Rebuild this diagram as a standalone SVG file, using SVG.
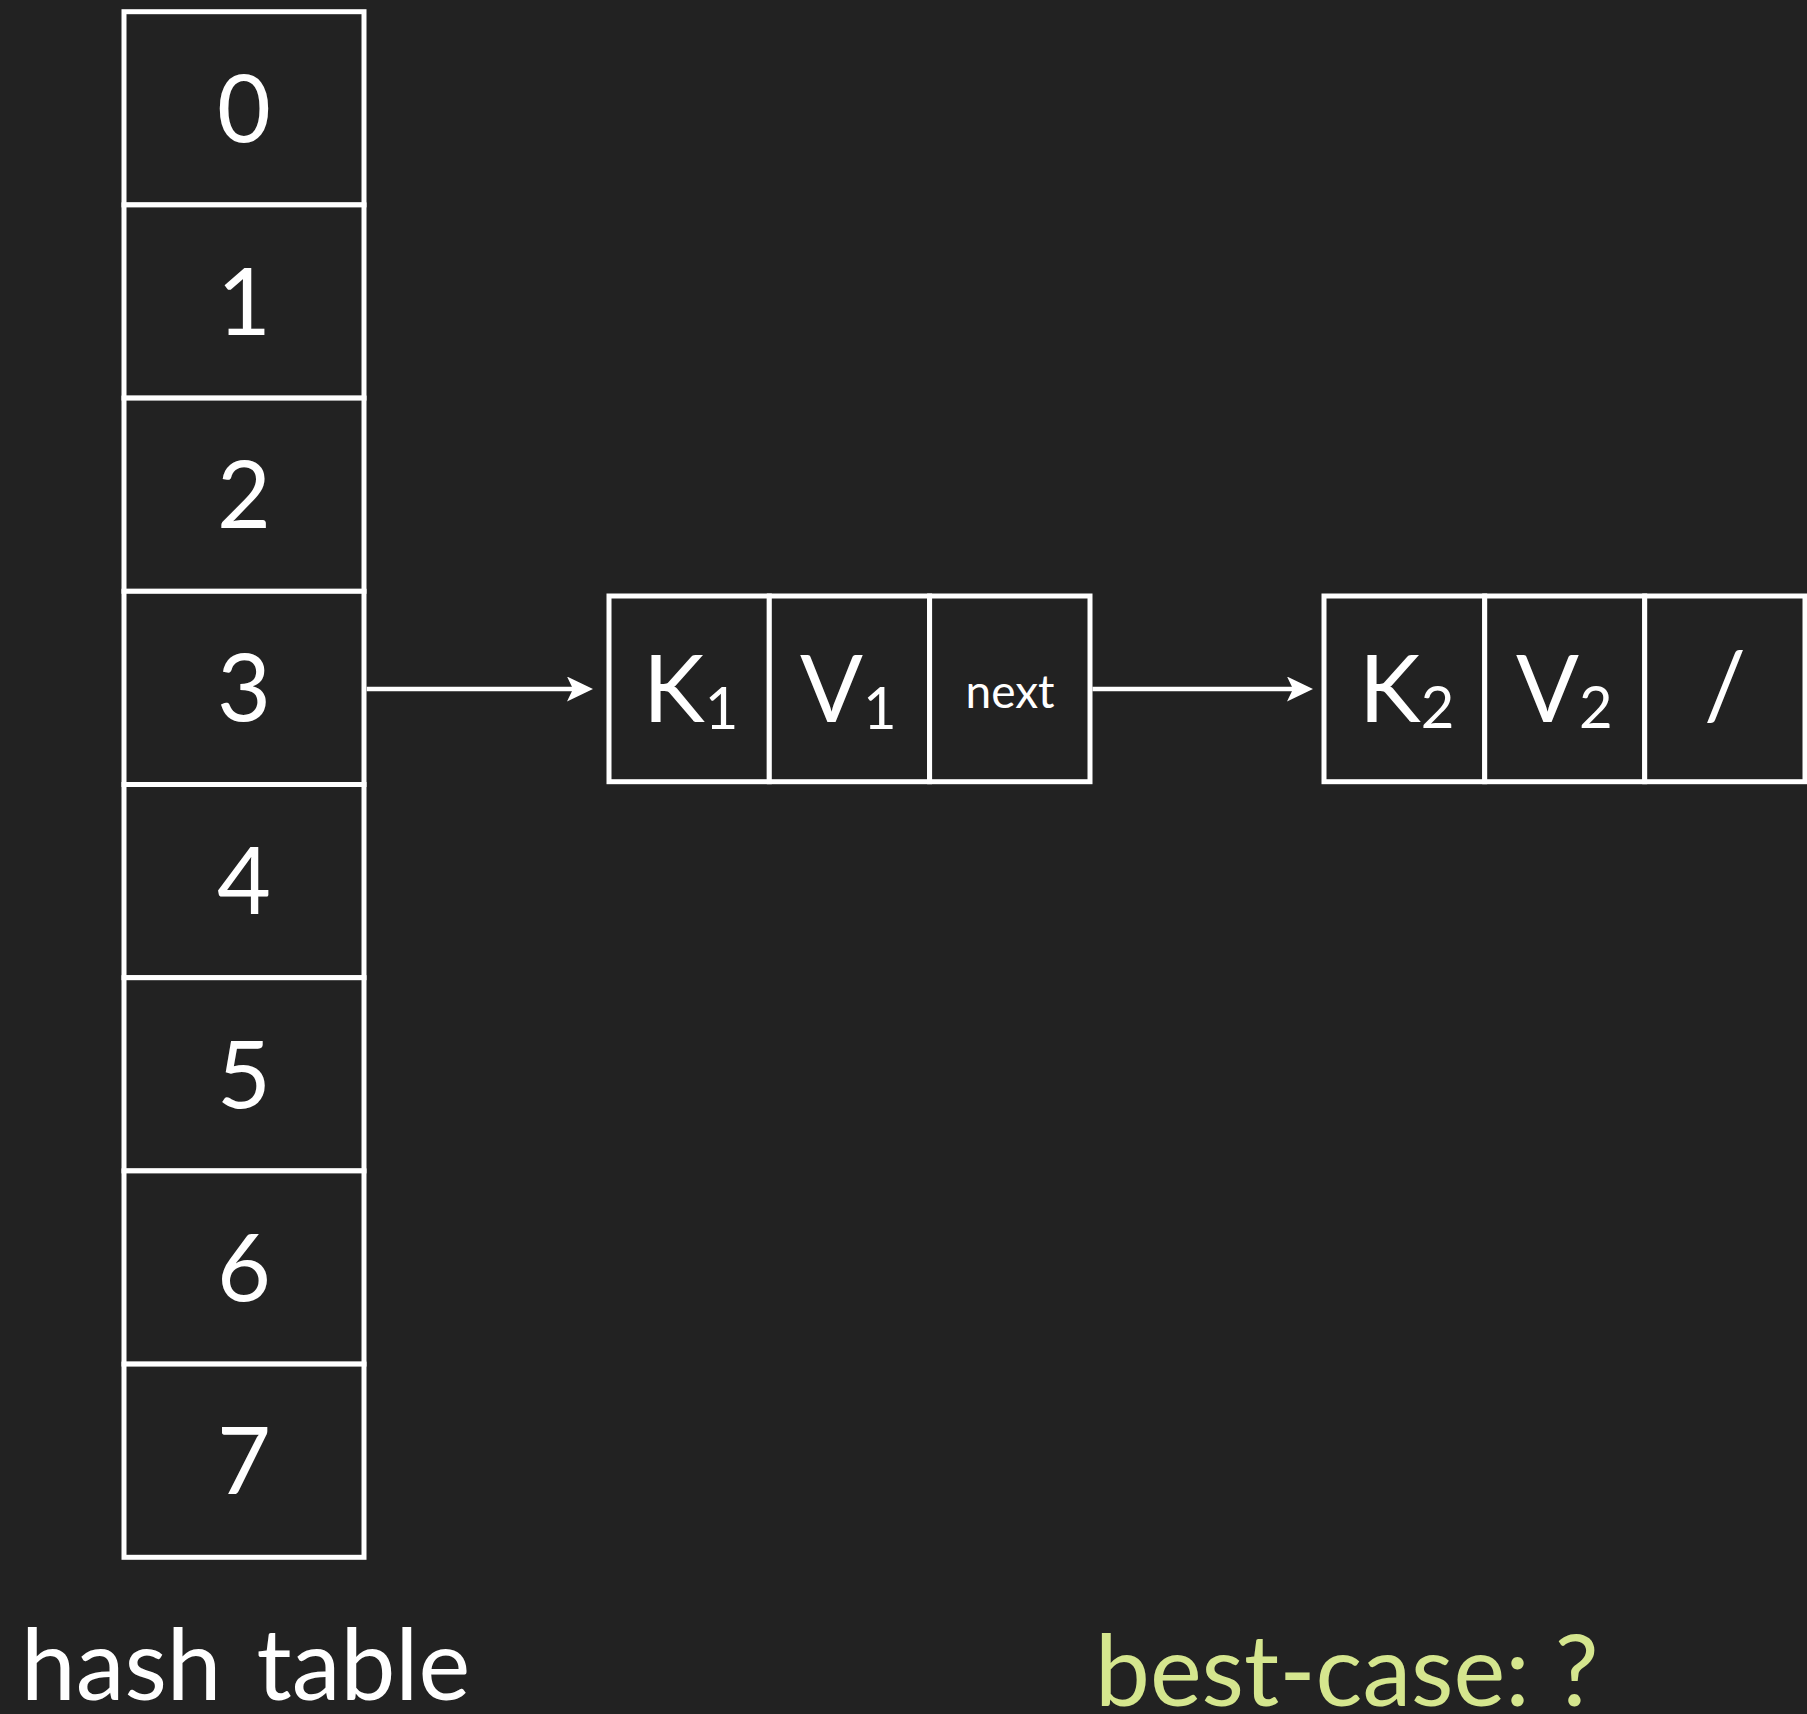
<svg xmlns="http://www.w3.org/2000/svg" width="1807" height="1714" viewBox="0 0 1807 1714">
  <style>
    .cell { fill: #222222; stroke: #ffffff; stroke-width: 5; }
    .t { font-family: Lato, "Open Sans", "Liberation Sans", sans-serif; fill: #ffffff; }
    .idx { font-size: 93px; text-anchor: middle; }
    .big { font-size: 93px; }
    .sub { font-size: 58px; }
    .small { font-size: 46px; text-anchor: middle; }
    .label { font-size: 98px; }
    .green { fill: #d5e68e; }
    .conn { stroke: #ffffff; stroke-width: 4.5; fill: none; }
  </style>
  <defs>
    <marker id="arrow" markerUnits="userSpaceOnUse" markerWidth="26" markerHeight="25" refX="8" refY="12.5" orient="auto">
      <path d="M0,0 L26,12.5 L0,25 L6,12.5 Z" fill="#ffffff"/>
    </marker>
  </defs>
  <rect x="0" y="0" width="1807" height="1714" fill="#222222"/>

  <g id="hash-table">
    <g id="slot-0"><rect class="cell" x="124" y="11.7" width="240" height="193.2"/><text class="t idx" x="244" y="141.6">0</text></g>
    <g id="slot-1"><rect class="cell" x="124" y="204.9" width="240" height="193.2"/><text class="t idx" x="244" y="334.8">1</text></g>
    <g id="slot-2"><rect class="cell" x="124" y="398.1" width="240" height="193.2"/><text class="t idx" x="244" y="528">2</text></g>
    <g id="slot-3"><rect class="cell" x="124" y="591.3" width="240" height="193.2"/><text class="t idx" x="244" y="721.2">3</text></g>
    <g id="slot-4"><rect class="cell" x="124" y="784.5" width="240" height="193.2"/><text class="t idx" x="244" y="914.4">4</text></g>
    <g id="slot-5"><rect class="cell" x="124" y="977.7" width="240" height="193.2"/><text class="t idx" x="244" y="1107.6">5</text></g>
    <g id="slot-6"><rect class="cell" x="124" y="1170.9" width="240" height="193.2"/><text class="t idx" x="244" y="1300.8">6</text></g>
    <g id="slot-7"><rect class="cell" x="124" y="1364.1" width="240" height="193.2"/><text class="t idx" x="244" y="1494">7</text></g>
  </g>

  <g id="node-1">
    <rect class="cell" x="609" y="596" width="160.3" height="185.7"/>
    <rect class="cell" x="769.3" y="596" width="160.3" height="185.7"/>
    <rect class="cell" x="929.6" y="596" width="160.4" height="185.7"/>
    <text class="t big" x="643" y="721.7">K<tspan class="sub" dy="7.3">1</tspan></text>
    <text class="t big" x="800" y="721.7">V<tspan class="sub" dy="7.3">1</tspan></text>
    <text class="t small" x="1010" y="707.7">next</text>
  </g>

  <g id="node-2">
    <rect class="cell" x="1324" y="596" width="160.7" height="185.7"/>
    <rect class="cell" x="1484.7" y="596" width="160" height="185.7"/>
    <rect class="cell" x="1644.7" y="596" width="160.3" height="185.7"/>
    <text class="t big" x="1359" y="721.7">K<tspan class="sub" dy="6.6">2</tspan></text>
    <text class="t big" x="1516" y="721.7">V<tspan class="sub" dy="6.6">2</tspan></text>
    <text class="t idx" x="1725" y="718">/</text>
  </g>

  <g id="connectors">
    <line class="conn" x1="366.7" y1="689" x2="575" y2="689" marker-end="url(#arrow)"/>
    <line class="conn" x1="1092.5" y1="689" x2="1295" y2="689" marker-end="url(#arrow)"/>
  </g>

  <g id="labels">
    <text class="t label" x="21" y="1700" word-spacing="10">hash table</text>
    <text class="t label green" x="1095" y="1706">best-case: ?</text>
  </g>
</svg>
